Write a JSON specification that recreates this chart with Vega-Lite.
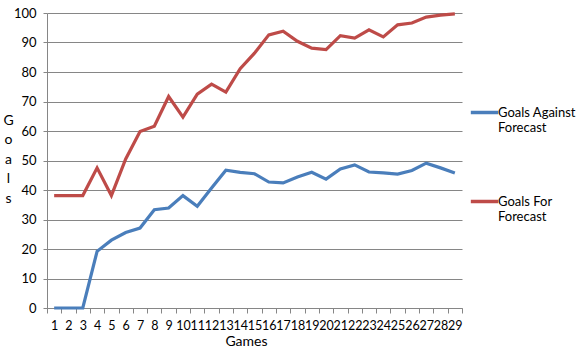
{
  "$schema": "https://vega.github.io/schema/vega-lite/v6.json",
  "autosize": {"type": "none"},
  "width": 415,
  "height": 295,
  "padding": {"left": 47, "top": 13, "right": 124, "bottom": 41},
  "background": "white",
  "config": {
    "view": {"stroke": null},
    "font": "Lato",
    "axis": {"labelFont": "Lato", "titleFont": "Lato", "labelColor": "#000000", "titleColor": "#000000", "labelFontSize": 13, "titleFontSize": 14, "titleFontWeight": "normal", "domainColor": "#868686", "tickColor": "#868686", "gridColor": "#868686"}
  },
  "datasets": {
    "goals": [
      {"game": 1, "series": "Goals Against Forecast", "value": 0},
      {"game": 2, "series": "Goals Against Forecast", "value": 0},
      {"game": 3, "series": "Goals Against Forecast", "value": 0},
      {"game": 4, "series": "Goals Against Forecast", "value": 19.2},
      {"game": 5, "series": "Goals Against Forecast", "value": 23.0},
      {"game": 6, "series": "Goals Against Forecast", "value": 25.6},
      {"game": 7, "series": "Goals Against Forecast", "value": 27.1},
      {"game": 8, "series": "Goals Against Forecast", "value": 33.3},
      {"game": 9, "series": "Goals Against Forecast", "value": 33.9},
      {"game": 10, "series": "Goals Against Forecast", "value": 38.1},
      {"game": 11, "series": "Goals Against Forecast", "value": 34.5},
      {"game": 12, "series": "Goals Against Forecast", "value": 40.7},
      {"game": 13, "series": "Goals Against Forecast", "value": 46.7},
      {"game": 14, "series": "Goals Against Forecast", "value": 46.0},
      {"game": 15, "series": "Goals Against Forecast", "value": 45.5},
      {"game": 16, "series": "Goals Against Forecast", "value": 42.7},
      {"game": 17, "series": "Goals Against Forecast", "value": 42.4},
      {"game": 18, "series": "Goals Against Forecast", "value": 44.4},
      {"game": 19, "series": "Goals Against Forecast", "value": 46.0},
      {"game": 20, "series": "Goals Against Forecast", "value": 43.7},
      {"game": 21, "series": "Goals Against Forecast", "value": 47.1},
      {"game": 22, "series": "Goals Against Forecast", "value": 48.5},
      {"game": 23, "series": "Goals Against Forecast", "value": 46.1},
      {"game": 24, "series": "Goals Against Forecast", "value": 45.8},
      {"game": 25, "series": "Goals Against Forecast", "value": 45.4},
      {"game": 26, "series": "Goals Against Forecast", "value": 46.6},
      {"game": 27, "series": "Goals Against Forecast", "value": 49.1},
      {"game": 28, "series": "Goals Against Forecast", "value": 47.5},
      {"game": 29, "series": "Goals Against Forecast", "value": 45.8},
      {"game": 1, "series": "Goals For Forecast", "value": 38.1},
      {"game": 2, "series": "Goals For Forecast", "value": 38.1},
      {"game": 3, "series": "Goals For Forecast", "value": 38.1},
      {"game": 4, "series": "Goals For Forecast", "value": 47.5},
      {"game": 5, "series": "Goals For Forecast", "value": 38.1},
      {"game": 6, "series": "Goals For Forecast", "value": 50.5},
      {"game": 7, "series": "Goals For Forecast", "value": 59.8},
      {"game": 8, "series": "Goals For Forecast", "value": 61.6},
      {"game": 9, "series": "Goals For Forecast", "value": 71.7},
      {"game": 10, "series": "Goals For Forecast", "value": 64.7},
      {"game": 11, "series": "Goals For Forecast", "value": 72.5},
      {"game": 12, "series": "Goals For Forecast", "value": 75.9},
      {"game": 13, "series": "Goals For Forecast", "value": 73.2},
      {"game": 14, "series": "Goals For Forecast", "value": 81.1},
      {"game": 15, "series": "Goals For Forecast", "value": 86.4},
      {"game": 16, "series": "Goals For Forecast", "value": 92.6},
      {"game": 17, "series": "Goals For Forecast", "value": 93.8},
      {"game": 18, "series": "Goals For Forecast", "value": 90.4},
      {"game": 19, "series": "Goals For Forecast", "value": 88.1},
      {"game": 20, "series": "Goals For Forecast", "value": 87.6},
      {"game": 21, "series": "Goals For Forecast", "value": 92.3},
      {"game": 22, "series": "Goals For Forecast", "value": 91.5},
      {"game": 23, "series": "Goals For Forecast", "value": 94.3},
      {"game": 24, "series": "Goals For Forecast", "value": 91.9},
      {"game": 25, "series": "Goals For Forecast", "value": 96.0},
      {"game": 26, "series": "Goals For Forecast", "value": 96.6},
      {"game": 27, "series": "Goals For Forecast", "value": 98.6},
      {"game": 28, "series": "Goals For Forecast", "value": 99.3},
      {"game": 29, "series": "Goals For Forecast", "value": 99.7}
    ]
  },
  "data": {"name": "goals"},
  "mark": {"type": "line", "strokeWidth": 3.2, "interpolate": "linear"},
  "encoding": {
    "x": {
      "field": "game", "type": "ordinal",
      "scale": {"type": "band", "paddingInner": 0, "paddingOuter": 0},
      "axis": {
        "title": "Games", "titleX": 199, "titleY": 33, "titleBaseline": "middle", "titleAnchor": null, "titleAlign": "center",
        "labelAngle": 0, "labelOverlap": false, "labelPadding": 6, "labelFontSize": 12.5, "labelBaseline": "top",
        "tickBand": "extent", "tickSize": 5, "grid": false, "domainColor": "#868686"
      }
    },
    "y": {
      "field": "value", "type": "quantitative",
      "scale": {"domain": [0, 100], "nice": false, "zero": true},
      "axis": {
        "values": [0, 10, 20, 30, 40, 50, 60, 70, 80, 90, 100],
        "title": ["G", "o", "a", "l", "s"], "titleAngle": 0, "titleX": -39, "titleY": 107, "titleAlign": "center", "titleBaseline": "middle", "titleLineHeight": 19.5, "titleFontSize": 14,
        "tickSize": 4, "labelPadding": 7, "grid": true, "gridColor": "#868686", "domain": true
      }
    },
    "color": {
      "field": "series", "type": "nominal",
      "scale": {"domain": ["Goals Against Forecast", "Goals For Forecast"], "range": ["#4A7EBB", "#BE4B48"]},
      "legend": {
        "title": null, "orient": "none", "legendX": 422, "legendY": 84, "direction": "vertical",
        "symbolType": "stroke", "symbolSize": 750, "symbolStrokeWidth": 3.5, "symbolOffset": 0,
        "labelExpr": "datum.label == 'Goals Against Forecast' ? ['Goals Against', 'Forecast'] : ['Goals For', 'Forecast']",
        "labelFont": "Lato", "labelFontSize": 13, "labelColor": "#000000", "labelLineHeight": 17, "labelOffset": -2, "labelBaseline": "middle",
        "rowPadding": 51
      }
    }
  }
}
